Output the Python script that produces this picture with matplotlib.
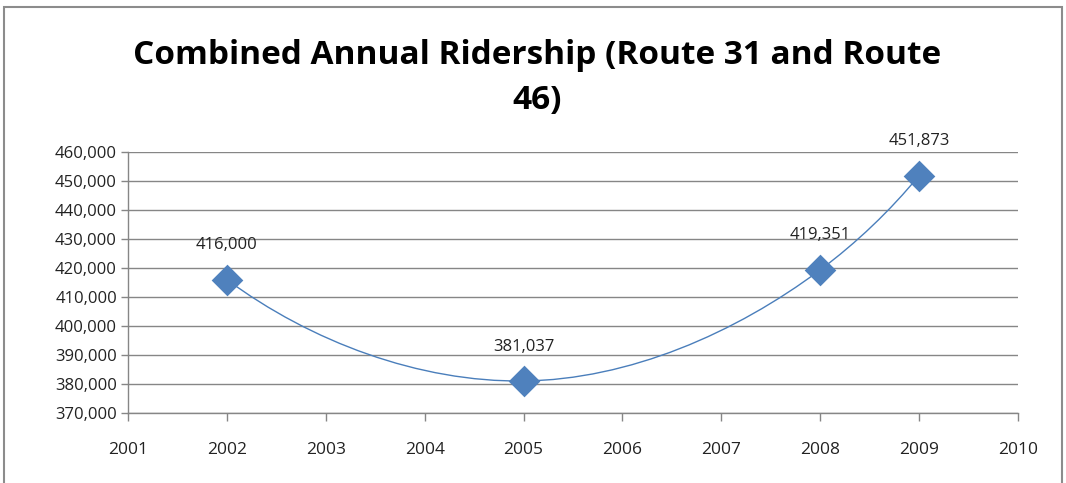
import numpy as np
import matplotlib.pyplot as plt
from matplotlib.path import Path
from matplotlib.patches import PathPatch, Rectangle

# data
years = [2002, 2005, 2008, 2009]
riders = [416000, 381037, 419351, 451873]
labels = ["416,000", "381,037", "419,351", "451,873"]
title = "Combined Annual Ridership (Route 31 and Route\n46)"
x_ticks = list(range(2001, 2011))
y_ticks = list(range(370000, 460001, 10000))

BLUE = "#4F81BD"
LINE = "#4A7EBB"
GRID = "#868686"

plt.rcParams["font.family"] = ["Open Sans", "DejaVu Sans"]


def unit(v):
    return v / np.hypot(*v)


def smooth_path(ax, xs, ys, t=1 / 3):
    """Smoothed line through the points, built in screen space so the
    tangents follow the on-screen shape (like Excel's smoothed line)."""
    pts = ax.transData.transform(np.column_stack([xs, ys]).astype(float))
    n = len(pts)
    seg = [pts[i + 1] - pts[i] for i in range(n - 1)]
    lens = [np.hypot(*s) for s in seg]
    tang = [None] * n
    for i in range(1, n - 1):
        d1, d2 = lens[i - 1], lens[i]
        tang[i] = unit(d2 * seg[i - 1] / d1 + d1 * seg[i] / d2)
    tang[0] = unit(2 * unit(seg[0]) - tang[1])
    tang[-1] = unit(2 * unit(seg[-1]) - tang[-2])
    verts = [pts[0]]
    codes = [Path.MOVETO]
    for i in range(n - 1):
        p1, p2 = pts[i], pts[i + 1]
        L = lens[i] * t
        verts += [p1 + tang[i] * L, p2 - tang[i + 1] * L, p2]
        codes += [Path.CURVE4] * 3
    verts = ax.transData.inverted().transform(np.array(verts))
    return Path(verts, codes)


fig = plt.figure(figsize=(10.66, 4.83), dpi=100)
fig.patches.append(Rectangle((4 / 1066, -0.05), 1058 / 1066, 1.05 - 7 / 483,
                             transform=fig.transFigure, fill=False,
                             edgecolor="#8C8C8C", linewidth=1.5))

ax = fig.add_axes([128 / 1066, 1 - 413 / 483, 890 / 1066, 261 / 483])
ax.set_xlim(2001, 2010)
ax.set_ylim(370000, 460000)

ax.add_patch(PathPatch(smooth_path(ax, years, riders), fill=False,
                       edgecolor=LINE, linewidth=1.0, zorder=3))
ax.scatter(years, riders, marker="D", s=260, color=BLUE, zorder=4,
           linewidths=0)

for x, y, t in zip(years, riders, labels):
    ax.annotate(t, (x, y), xytext=(0, 19), textcoords="offset points",
                ha="center", va="bottom", fontsize=12, color="#222222")

ax.set_xticks(x_ticks)
ax.set_yticks(y_ticks)
ax.set_yticklabels([f"{v:,}" for v in y_ticks])
ax.tick_params(axis="both", labelsize=12, colors="#222222")
ax.tick_params(axis="x", length=6, width=1, color=GRID, pad=15,
               labelsize=12.5)
ax.tick_params(axis="y", length=5, width=1, color=GRID, pad=3)

ax.grid(axis="y", color=GRID, linewidth=1)
ax.set_axisbelow(True)
for side in ["top", "right"]:
    ax.spines[side].set_visible(False)
for side in ["left", "bottom"]:
    ax.spines[side].set_color(GRID)
    ax.spines[side].set_linewidth(1)

fig.text(537 / 1066, 1 - 78 / 483, title, ha="center", va="center",
         fontsize=24, fontweight="bold", linespacing=1.45,
         family=["Open Sans", "DejaVu Sans"])

fig.savefig("out.png", dpi=100)
